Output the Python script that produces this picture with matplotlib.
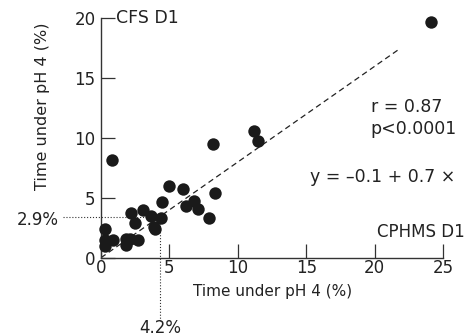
import numpy as np
import matplotlib
matplotlib.use("Agg")
import matplotlib.pyplot as plt

# CPHMS D1 (x) vs CFS D1 (y), time under pH 4 (%)
cphms = [0.83, 0.27, 0.27, 0.27, 0.9, 1.83, 1.83, 2.1, 2.73, 2.2, 2.45, 3.05, 3.65,
         3.9, 3.95, 4.37, 4.48, 4.95, 5.98, 6.23, 6.77, 7.06, 7.9, 8.3, 8.2,
         11.2, 11.5, 24.1]
cfs = [8.12, 2.39, 1.47, 1.0, 1.5, 1.6, 1.05, 1.6, 1.45, 3.72, 2.88, 3.95, 3.5,
       2.6, 2.36, 3.35, 4.62, 5.98, 5.7, 4.35, 4.75, 4.1, 3.3, 5.36, 9.52,
       10.56, 9.72, 19.67]

fit_x = [0, 21.8]
fit_y = [0, 17.4]

cut_x = 4.3
cut_y = 3.37

plt.rcParams['font.family'] = ['DejaVu Sans']
fig = plt.figure(figsize=(4.73, 3.36), dpi=100)
ax = fig.add_axes([0.2135, 0.233, 0.7235, 0.714])

ax.plot(fit_x, fit_y, color='#222222', lw=0.9, dashes=(4.5, 3))
ax.scatter(cphms, cfs, s=80, color='#1a1a1a', zorder=3, clip_on=False, linewidths=0)

# dotted cut-off lines, running outside the axes
ax.plot([-2.8, cut_x], [cut_y, cut_y], color='#333333', lw=0.8, ls=':', clip_on=False)
ax.plot([cut_x, cut_x], [cut_y, -5.3], color='#333333', lw=0.8, ls=':', clip_on=False)

ax.set_xlim(0, 25)
ax.set_ylim(0, 20)
ax.set_xticks([0, 5, 10, 15, 20, 25])
ax.set_yticks([0, 5, 10, 15, 20])
for s in ['top', 'right']:
    ax.spines[s].set_visible(False)
for s in ['left', 'bottom']:
    ax.spines[s].set_color('#333333')
    ax.spines[s].set_linewidth(1.0)
ax.tick_params(direction='in', length=10, width=0.9, color='#333333',
               labelsize=12, labelcolor='#222222')
ax.tick_params(axis='x', pad=1)
ax.tick_params(axis='y', pad=4)

ax.set_xlabel('Time under pH 4 (%)', fontsize=11, color='#222222', labelpad=5)
ax.set_ylabel('Time under pH 4 (%)', fontsize=11.5, color='#222222')
ax.yaxis.set_label_coords(-0.15, 0.63)

ax.text(1.1, 20, 'CFS D1', fontsize=12.5, color='#222222', va='center')
ax.text(20.15, 2.14, 'CPHMS D1', fontsize=12, color='#222222', ha='left', va='center')
ax.text(19.7, 12.6, 'r = 0.87', fontsize=12.5, color='#222222', va='center')
ax.text(19.7, 10.7, 'p<0.0001', fontsize=12.5, color='#222222', va='center')
ax.text(15.3, 6.7, 'y = \u20130.1 + 0.7 \u00d7', fontsize=12.5, color='#222222', va='center')
ax.text(-3.1, cut_y - 0.25, '2.9%', fontsize=12, color='#222222', ha='right', va='center')
ax.text(cut_x, -5.1, '4.2%', fontsize=12, color='#222222', ha='center', va='top')

fig.savefig('out.png', dpi=100)
